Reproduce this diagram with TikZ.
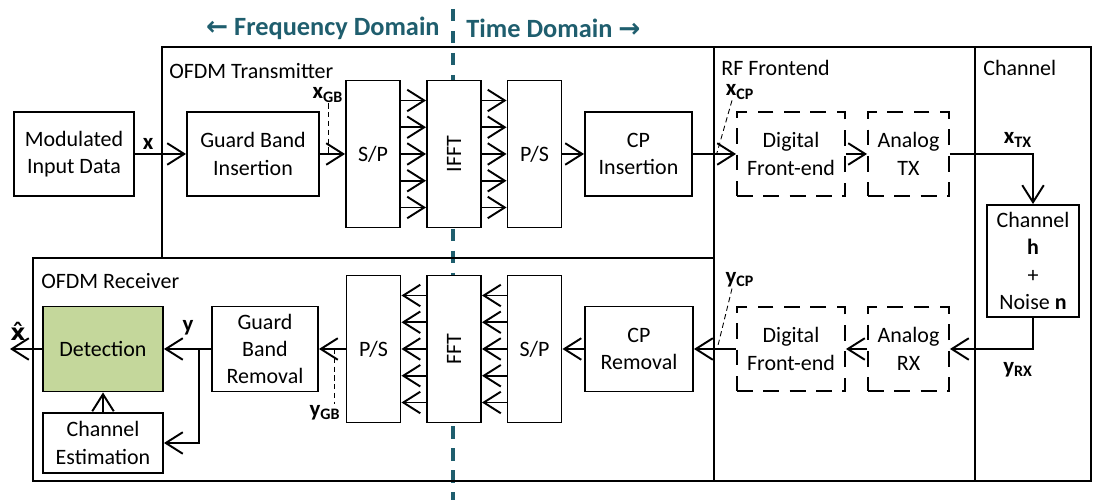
\documentclass[tikz,border=0pt]{standalone}
\usepackage{fontspec}
\setmainfont{Carlito}
\newfontfamily\arrowfont{DejaVu Sans}
\usepackage{graphicx}
\usepackage{tikz}
\usetikzlibrary{positioning}
\usetikzlibrary{arrows.meta}
\usetikzlibrary{calc}
\definecolor{domainteal}{RGB}{31,94,110}
\definecolor{detectgreen}{RGB}{196,215,155}
\newcommand{\blockfont}{\fontsize{12.5}{15.6}\selectfont}
\newcommand{\sigfont}{\fontsize{13}{15}\selectfont\bfseries}
\newcommand{\domainfont}{\fontsize{15}{18}\selectfont\bfseries}
\tikzstyle{block}=[rectangle,draw,fill=white,line width=1.1pt,align=center,inner sep=0pt,font=\blockfont]
\tikzstyle{wideblock}=[block,minimum width=2.14cm,minimum height=1.68cm]
\tikzstyle{tallblock}=[block,minimum width=1.08cm,minimum height=2.94cm]
\tikzstyle{rfblock}=[wideblock,dash pattern=on 9pt off 6pt]
\tikzstyle{frame}=[draw,line width=1.1pt]
\tikzstyle{framelabel}=[anchor=west,inner sep=0pt,font=\blockfont]
\tikzstyle{edge}=[draw,line width=1.1pt,-{Straight Barb[length=3.4mm,width=4.3mm]}]
\tikzstyle{signal}=[font=\sigfont,inner sep=0.5pt]
\tikzstyle{pointer}=[draw,densely dashed,line width=0.5pt]
\tikzstyle{splitline}=[draw=domainteal,line width=1.8pt,dash pattern=on 7pt off 5.5pt]
\tikzstyle{headline}=[text=domainteal,font=\domainfont,inner sep=0pt]

\begin{document}
\begin{tikzpicture}
    \useasboundingbox (0,0) rectangle (21.86,10);

    % Domain split and its headings
    \coordinate (splittop) at (9.06,9.82);
    \coordinate (splitbot) at (9.06,0);
    \path[splitline] (splittop) -- (splitbot);
    \node[headline,anchor=east] (freqdom) at (8.8,9.44) {{\arrowfont ←} Frequency Domain};
    \node[headline,anchor=west] (timedom) at (9.32,9.44) {Time Domain {\arrowfont →}};

    % Frames of the four sections
    \draw[frame] (3.24,4.84) rectangle (14.28,9.06);
    \draw[frame] (0.66,0.38) rectangle (14.28,4.84);
    \draw[frame] (14.28,0.38) rectangle (19.5,9.06);
    \draw[frame] (19.5,0.38) rectangle (21.82,9.06);
    \node[framelabel] (txtitle) at (3.38,8.58) {OFDM Transmitter};
    \node[framelabel] (rxtitle) at (0.82,4.38) {OFDM Receiver};
    \node[framelabel] (rftitle) at (14.42,8.64) {RF Frontend};
    \node[framelabel] (chtitle) at (19.66,8.64) {Channel};

    % Transmitter chain
    \foreach \pos/\name/\bw/\label in {{(1.48,6.92)/input/2.4/{Modulated\\Input Data}}, {(5.06,6.92)/gbi/2.64/{Guard Band\\Insertion}}, {(12.77,6.92)/cpi/2.14/{CP\\Insertion}}}
        \node[wideblock,minimum width=\bw cm] (\name) at \pos {\label};
    \foreach \pos/\name/\turn/\label in {{(7.46,6.92)/sptx/0/{S/P}}, {(9.08,6.92)/ifft/90/IFFT}, {(10.69,6.92)/pstx/0/{P/S}}}
        \node[tallblock] (\name) at \pos {\rotatebox{\turn}{\label}};

    % Receiver chain
    \foreach \pos/\name/\bw/\label in {{(5.30,3.02)/gbr/2.12/{Guard\\Band\\Removal}}, {(12.78,3.02)/cpr/2.16/{CP\\Removal}}}
        \node[wideblock,minimum width=\bw cm,minimum height=1.7cm] (\name) at \pos {\label};
    \foreach \pos/\name/\turn/\label in {{(7.47,3.02)/psrx/0/{P/S}}, {(9.08,3.02)/fft/90/FFT}, {(10.69,3.02)/sprx/0/{S/P}}}
        \node[tallblock] (\name) at \pos {\rotatebox{\turn}{\label}};
    \node[wideblock,minimum width=2.4cm,minimum height=1.7cm,fill=detectgreen] (det) at (2.06,3.02) {Detection};
    \node[wideblock,minimum width=2.4cm,minimum height=1.2cm] (chest) at (2.06,1.14) {Channel\\Estimation};

    % RF frontend and channel
    \foreach \pos/\name/\bw/\label in {{(15.82,6.92)/dfetx/2.16/{Digital\\Front-end}}, {(18.17,6.92)/atx/1.62/{Analog\\TX}}, {(15.82,3.02)/dferx/2.16/{Digital\\Front-end}}, {(18.17,3.02)/arx/1.62/{Analog\\RX}}}
        \node[rfblock,minimum width=\bw cm] (\name) at \pos {\label};
    \node[block,minimum width=1.84cm,minimum height=2.24cm] (chan) at (20.66,4.78) {Channel\\\textbf{h}\\+\\Noise \textbf{n}};

    % Connect the transmitter blocks
    \foreach \source/\dest in {input/gbi, gbi/sptx, pstx/cpi, cpi/dfetx, dfetx/atx}
        \path[edge] (\source) -- (\dest);
    \foreach \dy in {-2,...,2} {
        \path[edge] ($(sptx.east)+(0,\dy*0.535)$) -- ($(ifft.west)+(0,\dy*0.535)$);
        \path[edge] ($(ifft.east)+(0,\dy*0.535)$) -- ($(pstx.west)+(0,\dy*0.535)$);
    }
    \path[edge] (atx.east) -| (chan.north);
    \path[edge] (chan.south) |- (arx.east);

    % Connect the receiver blocks
    \foreach \source/\dest in {arx/dferx, dferx/cpr, cpr/sprx, psrx/gbr, gbr/det, chest/det}
        \path[edge] (\source) -- (\dest);
    \foreach \dy in {-2,...,2} {
        \path[edge] ($(sprx.west)+(0,\dy*0.535)$) -- ($(fft.east)+(0,\dy*0.535)$);
        \path[edge] ($(fft.west)+(0,\dy*0.535)$) -- ($(psrx.east)+(0,\dy*0.535)$);
    }
    \coordinate (ysplit) at (3.98,3.02);
    \path[edge] (ysplit) |- (chest.east);
    \coordinate (xout) at (0.2,3.02);
    \path[edge] (det.west) -- (xout);

    % Signal names
    \node[signal] (xin) at (2.96,7.12) {x};
    \node[signal] (xgb) at (6.56,8.1) {x\textsubscript{GB}};
    \node[signal] (xcp) at (14.8,8.16) {x\textsubscript{CP}};
    \node[signal] (xtx) at (20.36,7.2) {x\textsubscript{TX}};
    \node[signal] (yrx) at (20.36,2.6) {y\textsubscript{RX}};
    \node[signal] (ycp) at (14.8,4.4) {y\textsubscript{CP}};
    \node[signal] (ygb) at (6.5,1.74) {y\textsubscript{GB}};
    \node[signal] (yin) at (3.76,3.44) {y};
    \node[signal] (xhat) at (0.36,3.38) {\arrowfont\bfseries x^^^^0302};

    % Dashed pointers from the names to their lines
    \coordinate (xgbtip) at (xgb.south |- gbi.east);
    \path[pointer] (xgb.south) -- (xgbtip);
    \coordinate (xcptip) at ($(cpi.east)!0.55!(dfetx.west)$);
    \path[pointer] ($(xcp.south)+(-0.16,0)$) -- (xcptip);
    \coordinate (ycptip) at ($(cpr.east)!0.55!(dferx.west)$);
    \path[pointer] ($(ycp.south)+(-0.16,0)$) -- (ycptip);
    \coordinate (ygbtip) at ($(gbr.east)!0.59!(psrx.west)$);
    \path[pointer] (ygbtip) -- (ygbtip |- ygb.north);
\end{tikzpicture}
\end{document}
